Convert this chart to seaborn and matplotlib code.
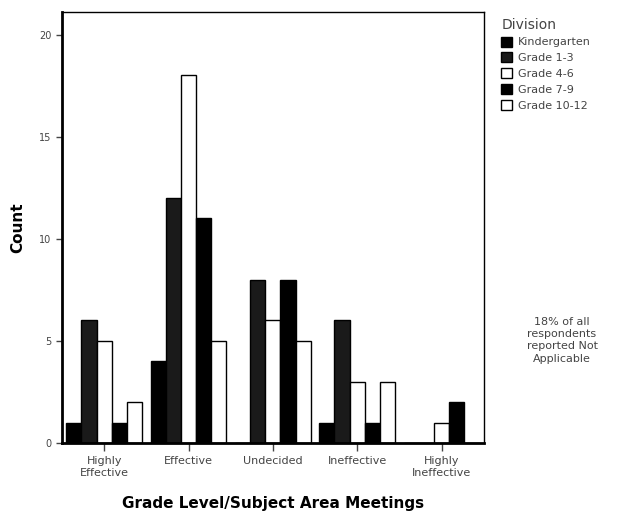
import matplotlib
matplotlib.use("Agg")
import matplotlib.pyplot as plt
import seaborn as sns
import pandas as pd

categories = ["Highly\nEffective", "Effective", "Undecided", "Ineffective", "Highly\nIneffective"]
divisions = ["Kindergarten", "Grade 1-3", "Grade 4-6", "Grade 7-9", "Grade 10-12"]
kindergarten = [1, 4, 0, 1, 0]
grade_1_3 = [6, 12, 8, 6, 0]
grade_4_6 = [5, 18, 6, 3, 1]
grade_7_9 = [1, 11, 8, 1, 2]
grade_10_12 = [2, 5, 5, 3, 0]
colors = ["#000000", "#1a1a1a", "#ffffff", "#000000", "#ffffff"]

series = [kindergarten, grade_1_3, grade_4_6, grade_7_9, grade_10_12]
rows = []
for d, vals in zip(divisions, series):
    for c, v in zip(categories, vals):
        rows.append({"Category": c, "Division": d, "Count": v})
df = pd.DataFrame(rows)

sns.set_style("white")
plt.rcParams["font.family"] = ["DejaVu Sans"]

fig = plt.figure(figsize=(6.21, 5.29), dpi=100)
ax = fig.add_axes([0.0998, 0.1626, 0.779 - 0.0998, 0.977 - 0.1626])

sns.barplot(data=df, x="Category", y="Count", hue="Division", order=categories,
            hue_order=divisions, palette=dict(zip(divisions, colors)),
            edgecolor="black", linewidth=1.0, width=0.9, ax=ax, legend=True)

ax.set_xlim(-0.5, 4.5)
ax.set_ylim(0, 21.1)
ax.set_yticks([0, 5, 10, 15, 20])
ax.tick_params(axis="y", labelsize=7, colors="#444444", length=4, width=1, left=True, direction="out")
ax.tick_params(axis="x", labelsize=8, colors="#444444", length=6, width=1, bottom=True, direction="out")
ax.set_ylabel("Count", fontsize=11, fontweight="bold", labelpad=10, color="black")
ax.set_xlabel("Grade Level/Subject Area Meetings", fontsize=11, fontweight="bold", labelpad=13, color="black")

for side in ["left", "bottom"]:
    ax.spines[side].set_linewidth(2.0)
    ax.spines[side].set_color("black")
for side in ["top", "right"]:
    ax.spines[side].set_linewidth(1.0)
    ax.spines[side].set_color("black")

handles, labels = ax.get_legend_handles_labels()
ax.legend_.remove()
leg = fig.legend(handles, labels, title="Division", loc="upper left",
                 bbox_to_anchor=(0.8, 0.975), frameon=False, fontsize=8,
                 title_fontsize=10, handlelength=1.0, handleheight=1.0,
                 handletextpad=0.5, labelspacing=0.45, borderaxespad=0,
                 alignment="left", labelcolor="#444444")
leg.get_title().set_color("#444444")

fig.text(0.905, 0.357, "18% of all\nrespondents\nreported Not\nApplicable", ha="center", va="center",
         fontsize=8, color="#444444", linespacing=1.3)

fig.savefig("out.png", dpi=100)
